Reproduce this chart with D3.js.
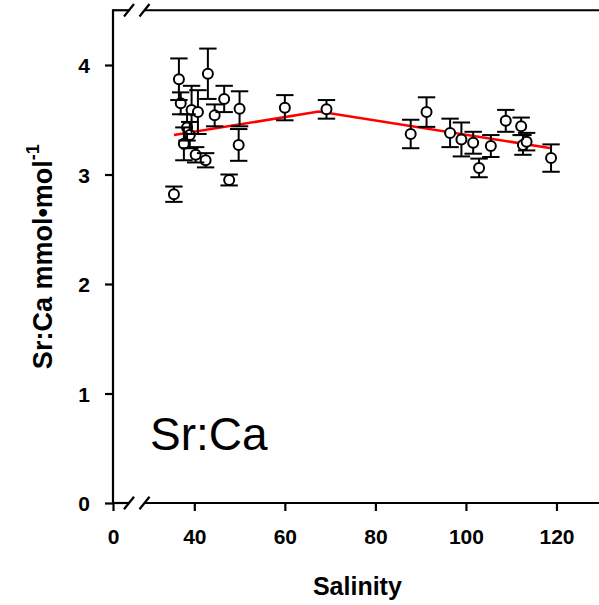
<!DOCTYPE html>
<html>
<head>
<meta charset="utf-8">
<script src="https://cdn.jsdelivr.net/npm/d3@7/dist/d3.min.js"></script>
<style>
  html, body { margin: 0; padding: 0; background: #fff; }
  svg { display: block; }
  text { font-family: Arial, "Liberation Sans", sans-serif; }
</style>
</head>
<body>
<svg id="chart" width="599" height="605"></svg>
<script>
// Sr:Ca ratio against salinity, mean ± error per sample
const salinity = [35.5, 36.6, 37.0, 37.7, 38.4, 39.0, 39.4, 40.3, 40.8, 42.5,
                  43.0, 44.5, 46.6, 47.7, 49.8, 50.0, 60.0, 69.2, 87.8, 91.3,
                  96.5, 99.0, 101.6, 102.9, 105.5, 108.8, 112.2, 112.6, 113.4, 118.8];
const srca = [2.82, 3.87, 3.65, 3.28, 3.43, 3.36, 3.59, 3.18, 3.57, 3.13,
              3.92, 3.54, 3.69, 2.95, 3.27, 3.60, 3.61, 3.595, 3.37, 3.57,
              3.38, 3.32, 3.29, 3.06, 3.26, 3.49, 3.44, 3.27, 3.30, 3.15];
const srcaErr = [0.07, 0.19, 0.10, 0.15, 0.12, 0.12, 0.22, 0.07, 0.20, 0.065,
                 0.23, 0.10, 0.12, 0.05, 0.145, 0.16, 0.115, 0.085, 0.13, 0.135,
                 0.13, 0.155, 0.10, 0.085, 0.10, 0.10, 0.08, 0.09, 0.08, 0.125];

// segmented (broken-stick) fit
const fitSalinity = [35.5, 67.5, 118.8];
const fitSrca = [3.36, 3.575, 3.24];

const xTicks = [0, 40, 60, 80, 100, 120];
const yTicks = [0, 1, 2, 3, 4];

(function draw() {
  const svg = d3.select("#chart");

  // x axis has a break between the first stub and 29
  const x = d3.scaleLinear()
    .domain([0, 3.5, 29, 130])
    .range([113, 129, 144.5, 601.75]);
  const y = d3.scaleLinear().domain([0, 4.5]).range([503, 10.25]);

  const xL = x(0), xR = x(130), yT = y(4.5), yB = y(0);
  const brk1 = x(3.5), brk2 = x(29);
  const lw = 2.2;

  const frame = svg.append("g")
    .attr("stroke", "#000").attr("stroke-width", lw).attr("fill", "none");
  frame.append("line").attr("x1", xL).attr("x2", xL).attr("y1", yT - lw / 2).attr("y2", yB + lw / 2);
  [yT, yB].forEach(yy => {
    frame.append("line").attr("x1", xL).attr("x2", brk1).attr("y1", yy).attr("y2", yy);
    frame.append("line").attr("x1", brk2).attr("x2", xR).attr("y1", yy).attr("y2", yy);
    [brk1, brk2].forEach(bx => {
      frame.append("line")
        .attr("x1", bx - 5).attr("y1", yy + 6.3)
        .attr("x2", bx + 5).attr("y2", yy - 6.3);
    });
  });

  // ticks and labels
  const xAxis = svg.append("g").attr("transform", `translate(0,${yB})`)
    .call(d3.axisBottom(x).tickValues(xTicks).tickFormat(d3.format("d"))
      .tickSize(8).tickSizeOuter(0));
  xAxis.select(".domain").remove();
  xAxis.selectAll("line").attr("stroke-width", lw);
  xAxis.selectAll("text")
    .attr("font-size", 21).attr("font-weight", "bold").attr("fill", "#000")
    .attr("dy", 0).attr("y", 41);

  const yAxis = svg.append("g").attr("transform", `translate(${xL},0)`)
    .call(d3.axisLeft(y).tickValues(yTicks).tickFormat(d3.format("d"))
      .tickSize(8).tickSizeOuter(0).tickPadding(15));
  yAxis.select(".domain").remove();
  yAxis.selectAll("line").attr("stroke-width", lw);
  yAxis.selectAll("text")
    .attr("font-size", 21).attr("font-weight", "bold").attr("fill", "#000")
    .attr("dy", "0.36em");

  // axis titles
  svg.append("text")
    .attr("x", (xL + xR) / 2).attr("y", 595)
    .attr("text-anchor", "middle")
    .attr("font-size", 25).attr("font-weight", "bold")
    .text("Salinity");

  const yTitle = svg.append("text")
    .attr("transform", `translate(52,${(yT + yB) / 2}) rotate(-90)`)
    .attr("text-anchor", "middle")
    .attr("font-size", 27).attr("font-weight", "bold");
  yTitle.append("tspan").text("Sr:Ca mmol\u2022mol");
  yTitle.append("tspan").attr("font-size", 18).attr("dy", -13).text("-1");

  // panel label
  svg.append("text")
    .attr("x", 150).attr("y", 450)
    .attr("font-size", 46)
    .text("Sr:Ca");

  // fit line
  svg.append("path")
    .datum(fitSalinity.map((s, i) => [s, fitSrca[i]]))
    .attr("fill", "none").attr("stroke", "#ff0000").attr("stroke-width", 2.6)
    .attr("d", d3.line().x(d => x(d[0])).y(d => y(d[1])));

  // points with error bars
  const pts = salinity.map((s, i) => ({ s, v: srca[i], e: srcaErr[i] }));
  const r = 5, cap = 8.7;

  svg.append("g").selectAll("circle").data(pts).join("circle")
    .attr("cx", d => x(d.s)).attr("cy", d => y(d.v)).attr("r", r)
    .attr("fill", "#fff").attr("stroke", "#000").attr("stroke-width", 2);

  const bars = svg.append("g").attr("stroke", "#000").attr("stroke-width", 2);
  pts.forEach(d => {
    const cx = x(d.s), cy = y(d.v), yt = y(d.v + d.e), yb = y(d.v - d.e);
    if (cy - r > yt) bars.append("line").attr("x1", cx).attr("x2", cx).attr("y1", cy - r).attr("y2", yt);
    if (cy + r < yb) bars.append("line").attr("x1", cx).attr("x2", cx).attr("y1", cy + r).attr("y2", yb);
    bars.append("line").attr("x1", cx - cap).attr("x2", cx + cap).attr("y1", yt).attr("y2", yt);
    bars.append("line").attr("x1", cx - cap).attr("x2", cx + cap).attr("y1", yb).attr("y2", yb);
  });
})();
</script>
</body>
</html>
